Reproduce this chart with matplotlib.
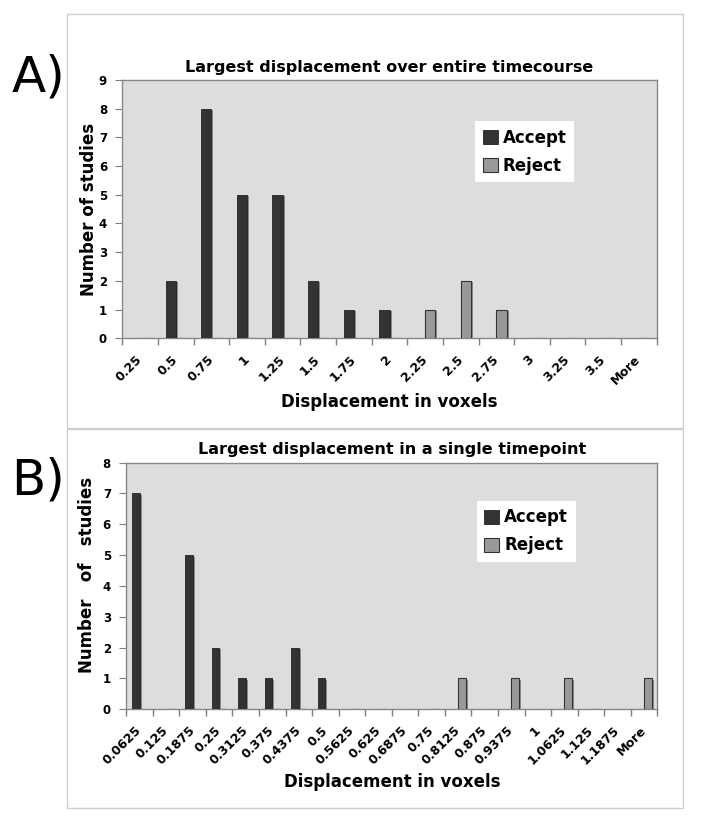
import numpy as np
import matplotlib
matplotlib.use('Agg')
import matplotlib.pyplot as plt
import matplotlib.patheffects as pe
from matplotlib.patches import Rectangle
from matplotlib.transforms import ScaledTranslation

# A) largest displacement over entire timecourse
bins_a = ['0.25', '0.5', '0.75', '1', '1.25', '1.5', '1.75', '2', '2.25', '2.5',
          '2.75', '3', '3.25', '3.5', 'More']
accept_a = [0, 2, 8, 5, 5, 2, 1, 1, 0, 0, 0, 0, 0, 0, 0]
reject_a = [0, 0, 0, 0, 0, 0, 0, 0, 1, 2, 1, 0, 0, 0, 0]

# B) largest displacement in a single timepoint
bins_b = ['0.0625', '0.125', '0.1875', '0.25', '0.3125', '0.375', '0.4375', '0.5',
          '0.5625', '0.625', '0.6875', '0.75', '0.8125', '0.875', '0.9375', '1',
          '1.0625', '1.125', '1.1875', 'More']
accept_b = [7, 0, 5, 2, 1, 1, 2, 1, 0, 0, 0, 0, 0, 0, 0, 0, 0, 0, 0, 0]
reject_b = [0, 0, 0, 0, 0, 0, 0, 0, 0, 0, 0, 0, 1, 0, 1, 0, 1, 0, 0, 1]

plt.rcParams['font.family'] = ['DejaVu Sans']
plt.rcParams['font.weight'] = 'bold'

fig = plt.figure(figsize=(7.06, 8.16), dpi=100)

# light grey frames round each chart
for y0, h in [(0.4755, 0.5074), (0.0094, 0.4645)]:
    fig.add_artist(Rectangle((0.0949, y0), 0.8732, h, transform=fig.transFigure,
                             fill=False, edgecolor='#cfcfcf', linewidth=1))

shadow = [pe.SimplePatchShadow(offset=(1.5, -1), shadow_rgbFace='#8a8a8a', alpha=1),
          pe.Normal()]
w = 1 / 3.5


def histo(ax, bins, acc, rej, ymax, title, ylab, ylab_xy, leg_xy):
    x = np.arange(len(bins))
    ax.set_facecolor('#dddddd')
    ax.bar(x, acc, width=-w, align='edge', color='#333333', edgecolor='#222222',
           linewidth=0.6, label='Accept', path_effects=shadow, zorder=3)
    ax.bar(x, rej, width=w, align='edge', color='#999999', edgecolor='#333333',
           linewidth=0.8, label='Reject', path_effects=shadow, zorder=3)
    ax.set_xlim(-0.5, len(bins) - 0.5)
    ax.set_ylim(0, ymax)
    ax.set_yticks(range(ymax + 1))
    ax.set_xticks(x)
    ax.set_xticklabels(bins, rotation=45, ha='right', va='center',
                       rotation_mode='anchor', fontsize=9)
    off = ScaledTranslation(-4 / 100, 0, fig.dpi_scale_trans)
    for t in ax.get_xticklabels():
        t.set_transform(t.get_transform() + off)
    ax.set_xticks(np.arange(len(bins) + 1) - 0.5, minor=True)
    ax.tick_params(axis='x', which='major', length=0, pad=14)
    ax.tick_params(axis='x', which='minor', length=5, color='#808080', width=1)
    ax.tick_params(axis='y', length=5, color='#808080', labelsize=8.5, pad=6)
    for s in ax.spines.values():
        s.set_color('#888888')
        s.set_linewidth(1)
    ax.set_title(title, fontsize=11.5, fontweight='bold', pad=6)
    ax.set_xlabel('Displacement in voxels', fontsize=12, fontweight='bold', labelpad=4)
    ax.set_ylabel(ylab, fontsize=12, fontweight='bold')
    ax.yaxis.set_label_coords(*ylab_xy)
    leg = ax.legend(loc='upper left', bbox_to_anchor=leg_xy, frameon=True,
                    fancybox=False, facecolor='white', edgecolor='none',
                    framealpha=1, fontsize=12, handlelength=0.9,
                    handleheight=0.9, handletextpad=0.3, labelspacing=0.6,
                    borderpad=0.45, borderaxespad=0)
    for hnd in leg.legend_handles:
        hnd.set_path_effects([])


ax1 = fig.add_axes([0.1732, 0.5854, 0.7570, 0.3166])
histo(ax1, bins_a, accept_a, reject_a, 9,
      'Largest displacement over entire timecourse', 'Number of studies',
      (-0.045, 0.5), (0.660, 0.841))

ax2 = fig.add_axes([0.1788, 0.1308, 0.7523, 0.3022])
histo(ax2, bins_b, accept_b, reject_b, 8,
      'Largest displacement in a single timepoint', 'Number   of   studies',
      (-0.056, 0.545), (0.660, 0.845))

fig.text(0.054, 0.905, 'A)', fontsize=36, fontweight='normal', ha='center', va='center')
fig.text(0.054, 0.411, 'B)', fontsize=36, fontweight='normal', ha='center', va='center')

fig.savefig('out.png', dpi=100, facecolor='white')
